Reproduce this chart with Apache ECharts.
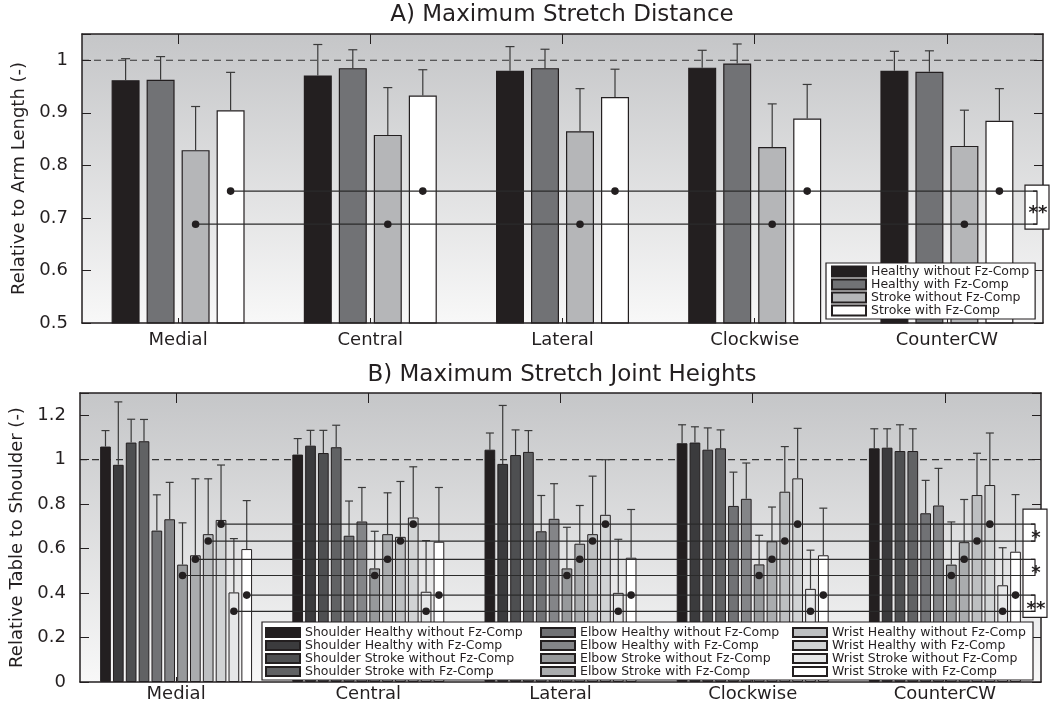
<!DOCTYPE html>
<html><head><meta charset="utf-8">
<script src="https://cdn.jsdelivr.net/npm/echarts@6/dist/echarts.min.js"></script>
<style>html,body{margin:0;padding:0;background:#fff}#c{width:1052px;height:711px}</style>
</head><body><div id="c"></div>
<script>
// ---------------- DATA ----------------
const categories = ['Medial', 'Central', 'Lateral', 'Clockwise', 'CounterCW'];
const referenceLevel = 1;

// Panel A: Maximum Stretch Distance (relative to arm length)
const titleA = 'A) Maximum Stretch Distance';
const yNameA = 'Relative to Arm Length (-)';
const yTicksA = [0.5, 0.6, 0.7, 0.8, 0.9, 1];
const namesA = ['Healthy without Fz-Comp', 'Healthy with Fz-Comp', 'Stroke without Fz-Comp', 'Stroke with Fz-Comp'];
const healthyWithoutA    = [0.962, 0.971, 0.980, 0.986, 0.980];
const healthyWithoutErrA = [1.003, 1.030, 1.026, 1.019, 1.017];
const healthyWithA       = [0.963, 0.985, 0.985, 0.994, 0.978];
const healthyWithErrA    = [1.007, 1.020, 1.021, 1.031, 1.018];
const strokeWithoutA     = [0.829, 0.858, 0.865, 0.835, 0.837];
const strokeWithoutErrA  = [0.912, 0.948, 0.946, 0.917, 0.905];
const strokeWithA        = [0.905, 0.933, 0.930, 0.889, 0.885];
const strokeWithErrA     = [0.977, 0.982, 0.983, 0.954, 0.946];
// significance lines A: which bar (series index) carries the dot, and the line level
const sigBarA   = [3, 2];
const sigValueA = [0.751, 0.688];
const bracketPairsA  = [[0, 1]];
const bracketLabelsA = ['**'];

// Panel B: Maximum Stretch Joint Heights (relative table to shoulder)
const titleB = 'B) Maximum Stretch Joint Heights';
const yNameB = 'Relative Table to Shoulder (-)';
const yTicksB = [0, 0.2, 0.4, 0.6, 0.8, 1, 1.2];
const namesB = [
  'Shoulder Healthy without Fz-Comp', 'Shoulder Healthy with Fz-Comp', 'Shoulder Stroke without Fz-Comp', 'Shoulder Stroke with Fz-Comp',
  'Elbow Healthy without Fz-Comp', 'Elbow Healthy with Fz-Comp', 'Elbow Stroke without Fz-Comp', 'Elbow Stroke with Fz-Comp',
  'Wrist Healthy without Fz-Comp', 'Wrist Healthy with Fz-Comp', 'Wrist Stroke without Fz-Comp', 'Wrist Stroke with Fz-Comp'
];
const shoulderHealthyWithout    = [1.059, 1.023, 1.045, 1.074, 1.051];
const shoulderHealthyWithoutErr = [1.131, 1.095, 1.120, 1.157, 1.139];
const shoulderHealthyWith       = [0.977, 1.063, 0.981, 1.077, 1.054];
const shoulderHealthyWithErr    = [1.260, 1.132, 1.244, 1.148, 1.139];
const shoulderStrokeWithout     = [1.077, 1.030, 1.021, 1.045, 1.039];
const shoulderStrokeWithoutErr  = [1.182, 1.132, 1.134, 1.143, 1.157];
const shoulderStrokeWith        = [1.083, 1.056, 1.035, 1.051, 1.039];
const shoulderStrokeWithErr     = [1.181, 1.155, 1.131, 1.134, 1.139];
const elbowHealthyWithout       = [0.681, 0.658, 0.678, 0.792, 0.759];
const elbowHealthyWithoutErr    = [0.842, 0.814, 0.839, 0.944, 0.907];
const elbowHealthyWith          = [0.732, 0.722, 0.734, 0.824, 0.794];
const elbowHealthyWithErr       = [0.898, 0.875, 0.892, 0.985, 0.961];
const elbowStrokeWithout        = [0.528, 0.511, 0.511, 0.529, 0.528];
const elbowStrokeWithoutErr     = [0.716, 0.678, 0.696, 0.660, 0.720];
const elbowStrokeWith           = [0.570, 0.665, 0.622, 0.633, 0.629];
const elbowStrokeWithErr        = [0.914, 0.851, 0.794, 0.787, 0.821];
const wristHealthyWithout       = [0.665, 0.653, 0.665, 0.856, 0.841];
const wristHealthyWithoutErr    = [0.914, 0.902, 0.926, 1.059, 1.029];
const wristHealthyWith          = [0.729, 0.740, 0.752, 0.916, 0.886];
const wristHealthyWithErr       = [0.976, 0.968, 1.000, 1.141, 1.120];
const wristStrokeWithout        = [0.403, 0.406, 0.401, 0.419, 0.435];
const wristStrokeWithoutErr     = [0.645, 0.636, 0.642, 0.593, 0.604];
const wristStrokeWith           = [0.598, 0.631, 0.559, 0.570, 0.586];
const wristStrokeWithErr        = [0.816, 0.875, 0.776, 0.782, 0.843];
const sigBarB   = [9, 8, 7, 6, 11, 10];
const sigValueB = [0.710, 0.634, 0.552, 0.479, 0.391, 0.318];
const bracketPairsB  = [[0, 1], [2, 3], [4, 5]];
const bracketLabelsB = ['*', '*', '**'];

// ---------------- STYLE ----------------
const FONT = 'DejaVu Sans';
const INK = '#231f20';
const colorsA = ['#231f20', '#717275', '#b5b6b8', '#ffffff'];
const colorsB = ['#231f20', '#3b3b3d', '#4e4f51', '#616264', '#717275', '#848588',
                 '#97999b', '#aaacae', '#bdbfc1', '#d1d3d4', '#e6e7e8', '#ffffff'];
const barWidthA = 28, barGapA = 0.25, pitchA = barWidthA * (1 + barGapA);
const barWidthB = 10.7, barGapB = 0.2, pitchB = barWidthB * (1 + barGapB);
const bracketInset = 6;

const valsA = [healthyWithoutA, healthyWithA, strokeWithoutA, strokeWithA];
const errsA = [healthyWithoutErrA, healthyWithErrA, strokeWithoutErrA, strokeWithErrA];
const valsB = [shoulderHealthyWithout, shoulderHealthyWith, shoulderStrokeWithout, shoulderStrokeWith,
               elbowHealthyWithout, elbowHealthyWith, elbowStrokeWithout, elbowStrokeWith,
               wristHealthyWithout, wristHealthyWith, wristStrokeWithout, wristStrokeWith];
const errsB = [shoulderHealthyWithoutErr, shoulderHealthyWithErr, shoulderStrokeWithoutErr, shoulderStrokeWithErr,
               elbowHealthyWithoutErr, elbowHealthyWithErr, elbowStrokeWithoutErr, elbowStrokeWithErr,
               wristHealthyWithoutErr, wristHealthyWithErr, wristStrokeWithoutErr, wristStrokeWithErr];

function bg() {
  return new echarts.graphic.LinearGradient(0, 0, 0, 1, [
    { offset: 0, color: '#c5c6c8' }, { offset: 1, color: '#f8f8f8' }]);
}
function tickFmt(ticks) {
  return v => ticks.some(t => Math.abs(t - v) < 1e-6) ? String(+(+v).toFixed(2)) : '';
}
const lineSt = { color: INK, width: 1.5 };

function xAxes(gi, labelMargin) {
  return [
    { gridIndex: gi, type: 'category', data: categories, position: 'bottom', z: 5,
      axisLine: { show: true, onZero: false, lineStyle: lineSt },
      axisTick: { show: true, inside: true, alignWithLabel: true, length: 5, lineStyle: { color: INK } },
      axisLabel: { fontFamily: FONT, fontSize: 18, color: INK, margin: labelMargin } },
    { gridIndex: gi, type: 'category', data: categories, position: 'top', z: 5,
      axisLine: { show: true, onZero: false, lineStyle: lineSt },
      axisTick: { show: true, inside: true, alignWithLabel: true, length: 10, lineStyle: { color: INK } },
      axisLabel: { show: false } }
  ];
}
function yAxes(gi, min, max, interval, ticks, name) {
  return [
    { gridIndex: gi, type: 'value', min, max, interval, position: 'left', z: 5,
      name, nameLocation: 'middle', nameGap: 52,
      nameTextStyle: { fontFamily: FONT, fontSize: 18, color: INK },
      axisLine: { show: true, onZero: false, lineStyle: lineSt },
      axisTick: { show: true, inside: true, length: 9, lineStyle: { color: INK } },
      axisLabel: { fontFamily: FONT, fontSize: 18, color: INK, margin: 14, formatter: tickFmt(ticks) },
      splitLine: { show: false } },
    { gridIndex: gi, type: 'value', min, max, interval, position: 'right', z: 5,
      axisLine: { show: true, onZero: false, lineStyle: lineSt },
      axisTick: { show: true, inside: true, length: 9, lineStyle: { color: INK } },
      axisLabel: { show: false }, splitLine: { show: false } }
  ];
}

function barSeries(names, vals, colors, xi, yi, bw, gap, bwid) {
  return names.map((n, i) => ({
    name: n, type: 'bar', xAxisIndex: xi, yAxisIndex: yi, data: vals[i],
    barWidth: bw, barGap: (gap * 100) + '%', z: 2, silent: true,
    itemStyle: { color: colors[i], borderColor: INK, borderWidth: bwid }
  }));
}
function refLineSeries(xi, yi) {
  return { type: 'custom', xAxisIndex: xi, yAxisIndex: yi, z: 1, silent: true,
    data: [[0, referenceLevel]], encode: { x: 0, y: 1 },
    renderItem: (p, api) => {
      const y = api.coord([0, api.value(1)])[1], cs = p.coordSys;
      return { type: 'line', shape: { x1: cs.x, y1: y, x2: cs.x + cs.width, y2: y },
        style: { stroke: '#333', lineWidth: 1.2, lineDash: [7, 5] } };
    } };
}
function errorSeries(xi, yi, vals, errs, pitch, cap) {
  const data = [];
  vals.forEach((arr, s) => arr.forEach((v, c) => data.push([c, s, v, errs[s][c]])));
  const n = vals.length;
  return { type: 'custom', xAxisIndex: xi, yAxisIndex: yi, z: 3, silent: true,
    data, encode: { x: 0, y: 2 },
    renderItem: (p, api) => {
      const c = api.value(0), s = api.value(1);
      const p0 = api.coord([c, api.value(2)]), p1 = api.coord([c, api.value(3)]);
      const x = p0[0] + (s - (n - 1) / 2) * pitch;
      const st = { stroke: '#3a3a3a', lineWidth: 1.2 };
      return { type: 'group', children: [
        { type: 'line', shape: { x1: x, y1: p0[1], x2: x, y2: p1[1] }, style: st },
        { type: 'line', shape: { x1: x - cap, y1: p1[1], x2: x + cap, y2: p1[1] }, style: st }] };
    } };
}
function sigSeries(xi, yi, bar, value, n, pitch) {
  return { type: 'custom', xAxisIndex: xi, yAxisIndex: yi, z: 7, silent: true,
    data: categories.map((_, c) => [c, value]), encode: { x: 0, y: 1 },
    renderItem: (p, api) => {
      const pt = api.coord([api.value(0), api.value(1)]);
      const x = pt[0] + (bar - (n - 1) / 2) * pitch;
      const ch = [];
      if (p.dataIndex === 0) {
        const cs = p.coordSys;
        ch.push({ type: 'line', shape: { x1: x, y1: pt[1], x2: cs.x + cs.width - bracketInset, y2: pt[1] },
          style: { stroke: '#2b2b2b', lineWidth: 1.2 } });
      }
      ch.push({ type: 'circle', shape: { cx: x, cy: pt[1], r: 3.8 }, style: { fill: INK } });
      return { type: 'group', children: ch };
    } };
}
function boxSeries(xi, yi, values, padTop, padBottom) {
  return { type: 'custom', xAxisIndex: xi, yAxisIndex: yi, z: 6, silent: true,
    data: [[0, Math.max(...values), Math.min(...values)]], encode: { x: 0, y: 1 },
    renderItem: (p, api) => {
      const cs = p.coordSys;
      const yt = api.coord([0, api.value(1)])[1] - padTop, yb = api.coord([0, api.value(2)])[1] + padBottom;
      const xr = cs.x + cs.width;
      return { type: 'rect', shape: { x: xr - 18, y: yt, width: 24, height: yb - yt },
        style: { fill: '#fff', stroke: INK, lineWidth: 1.2 } };
    } };
}
function bracketSeries(xi, yi, pairs, labels, values) {
  return { type: 'custom', xAxisIndex: xi, yAxisIndex: yi, z: 8, silent: true,
    data: pairs.map((pr, i) => [0, values[pr[0]], values[pr[1]], i]), encode: { x: 0, y: 1 },
    renderItem: (p, api) => {
      const cs = p.coordSys, bx = cs.x + cs.width - bracketInset;
      const y1 = api.coord([0, api.value(1)])[1], y2 = api.coord([0, api.value(2)])[1];
      return { type: 'group', children: [
        { type: 'polyline', shape: { points: [[bx - 4, y1], [bx, y1], [bx, y2], [bx - 4, y2]] },
          style: { stroke: INK, lineWidth: 1.2, fill: null } },
        { type: 'text', style: { text: labels[api.value(3)], x: bx + 1, y: (y1 + y2) / 2 + 6,
          align: 'center', verticalAlign: 'middle', font: 'bold 18px "DejaVu Sans"', fill: INK } }] };
    } };
}

const legendText = { fontFamily: FONT, fontSize: 12.5, color: INK };
function legendCol(names, left, top) {
  return { data: names, left, top, orient: 'vertical', itemWidth: 34, itemHeight: 9, itemGap: 0,
    padding: 0, icon: 'rect', selectedMode: false, z: 7,
    textStyle: Object.assign({ lineHeight: 12.6 }, legendText) };
}

const option = {
  animation: false,
  backgroundColor: '#fff',
  title: [
    { text: titleA, left: 562, top: 4, textAlign: 'center', padding: 0,
      textStyle: { fontFamily: FONT, fontSize: 23, fontWeight: 'normal', color: INK } },
    { text: titleB, left: 562, top: 364, textAlign: 'center', padding: 0,
      textStyle: { fontFamily: FONT, fontSize: 23, fontWeight: 'normal', color: INK } }
  ],
  grid: [
    { left: 82, top: 34, width: 961, height: 289, show: true, backgroundColor: bg(), borderWidth: 0 },
    { left: 80, top: 393, width: 961, height: 289, show: true, backgroundColor: bg(), borderWidth: 0 }
  ],
  xAxis: [...xAxes(0, 8), ...xAxes(1, 3)],
  yAxis: [...yAxes(0, 0.5, 1.05, 0.1, yTicksA, yNameA), ...yAxes(1, 0, 1.3, 0.2, yTicksB, yNameB)],
  legend: [
    { data: namesA, left: 826, top: 263, orient: 'vertical', itemWidth: 34, itemHeight: 10, itemGap: 0,
      padding: [2, 6, 2, 5], borderColor: INK, borderWidth: 1.2, backgroundColor: '#fff', icon: 'rect',
      selectedMode: false, z: 7, textStyle: Object.assign({ lineHeight: 13 }, legendText) },
    legendCol(namesB.slice(0, 4), 265, 626),
    legendCol(namesB.slice(4, 8), 540, 626),
    legendCol(namesB.slice(8, 12), 792, 626)
  ],
  graphic: [
    { type: 'rect', z: 6, shape: { x: 262, y: 622, width: 771, height: 58 },
      style: { fill: '#fff', stroke: INK, lineWidth: 1.2 } }
  ],
  series: [
    refLineSeries(0, 0), refLineSeries(2, 2),
    ...barSeries(namesA, valsA, colorsA, 0, 0, barWidthA, barGapA, 1.2),
    ...barSeries(namesB, valsB, colorsB, 2, 2, barWidthB, barGapB, 1),
    errorSeries(0, 0, valsA, errsA, pitchA, 4.5),
    errorSeries(2, 2, valsB, errsB, pitchB, 4),
    boxSeries(0, 0, sigValueA, 6, 5),
    boxSeries(2, 2, sigValueB, 15, 6),
    ...sigBarA.map((b, i) => sigSeries(0, 0, b, sigValueA[i], valsA.length, pitchA)),
    ...sigBarB.map((b, i) => sigSeries(2, 2, b, sigValueB[i], valsB.length, pitchB)),
    bracketSeries(0, 0, bracketPairsA, bracketLabelsA, sigValueA),
    bracketSeries(2, 2, bracketPairsB, bracketLabelsB, sigValueB)
  ]
};
const chart = echarts.init(document.getElementById('c'), null, { renderer: 'canvas' });
chart.setOption(option);
</script></body></html>
